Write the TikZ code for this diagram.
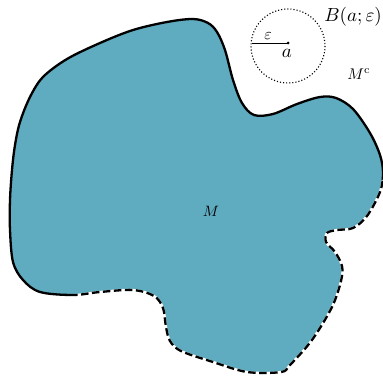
\documentclass[tikz,border=0pt]{standalone}
\definecolor{setfill}{RGB}{95,171,191}
\tikzset{
  bdline/.style={line width=2.3pt, line join=round},
  lbl/.style={inner sep=0pt},
}
\begin{document}
\begin{tikzpicture}[x=1pt, y=-1pt]
\useasboundingbox (0,0) rectangle (383,377);
\def\shape{plot[smooth cycle, tension=0.55] coordinates {
 (73,295) (40,292) (23,280) (13,262) (10,230) (10,200) (12,170) (15,145) (20,122)
 (30,97) (43,77) (67,59) (100,43) (133,30) (167,22) (193,19) (208,23) (217,32)
 (225,50) (233,80) (242,103) (254,115) (273,114) (297,104) (320,97) (336,98)
 (353,109) (370,133) (380,155) (383,173) (380,192) (367,216) (353,228) (337,230)
 (327,233) (326,242) (335,252) (342,266) (341,281) (332,307) (312,340) (290,365)
 (281,372) (247,372) (213,362) (181,351) (170,341) (166,327) (163,308) (154,296)
 (133,290) (100,292)}}
\fill[setfill] \shape;
\begin{scope}
  \clip (-10,-10) -- (400,-10) -- (400,180) -- (150,180) -- (75,210) -- (75,400) -- (-10,400) -- cycle;
  \draw[bdline] \shape;
\end{scope}
\begin{scope}
  \clip (400,180) -- (150,180) -- (75,210) -- (75,400) -- (400,400) -- cycle;
  \draw[bdline, white] \shape;
  \draw[bdline, dash pattern=on 7.5pt off 3.5pt] \shape;
\end{scope}
% ball
\coordinate (ballc) at (288,46);
\draw[line width=1.1pt, dotted] (ballc) circle[radius=37];
\coordinate (ctr) at (288,43);
\fill (ctr) circle[radius=1.5];
\coordinate (rim) at (252,43);
\draw[line width=0.9pt] (rim) -- (ctr);
\node[lbl] (eps) at (268,36.5) {\scalebox{1.6}{$\varepsilon$}};
\node[lbl] (a) at (287,53) {\scalebox{1.9}{$a$}};
\node[lbl] (B) at (353,17) {\scalebox{1.9}{$B(a;\varepsilon)$}};
\node[lbl] (Mc) at (359,74) {\scalebox{1.55}{$M^{\mathrm{c}}$}};
\node[lbl] (M) at (211,211) {\scalebox{1.5}{$M$}};
\end{tikzpicture}
\end{document}
